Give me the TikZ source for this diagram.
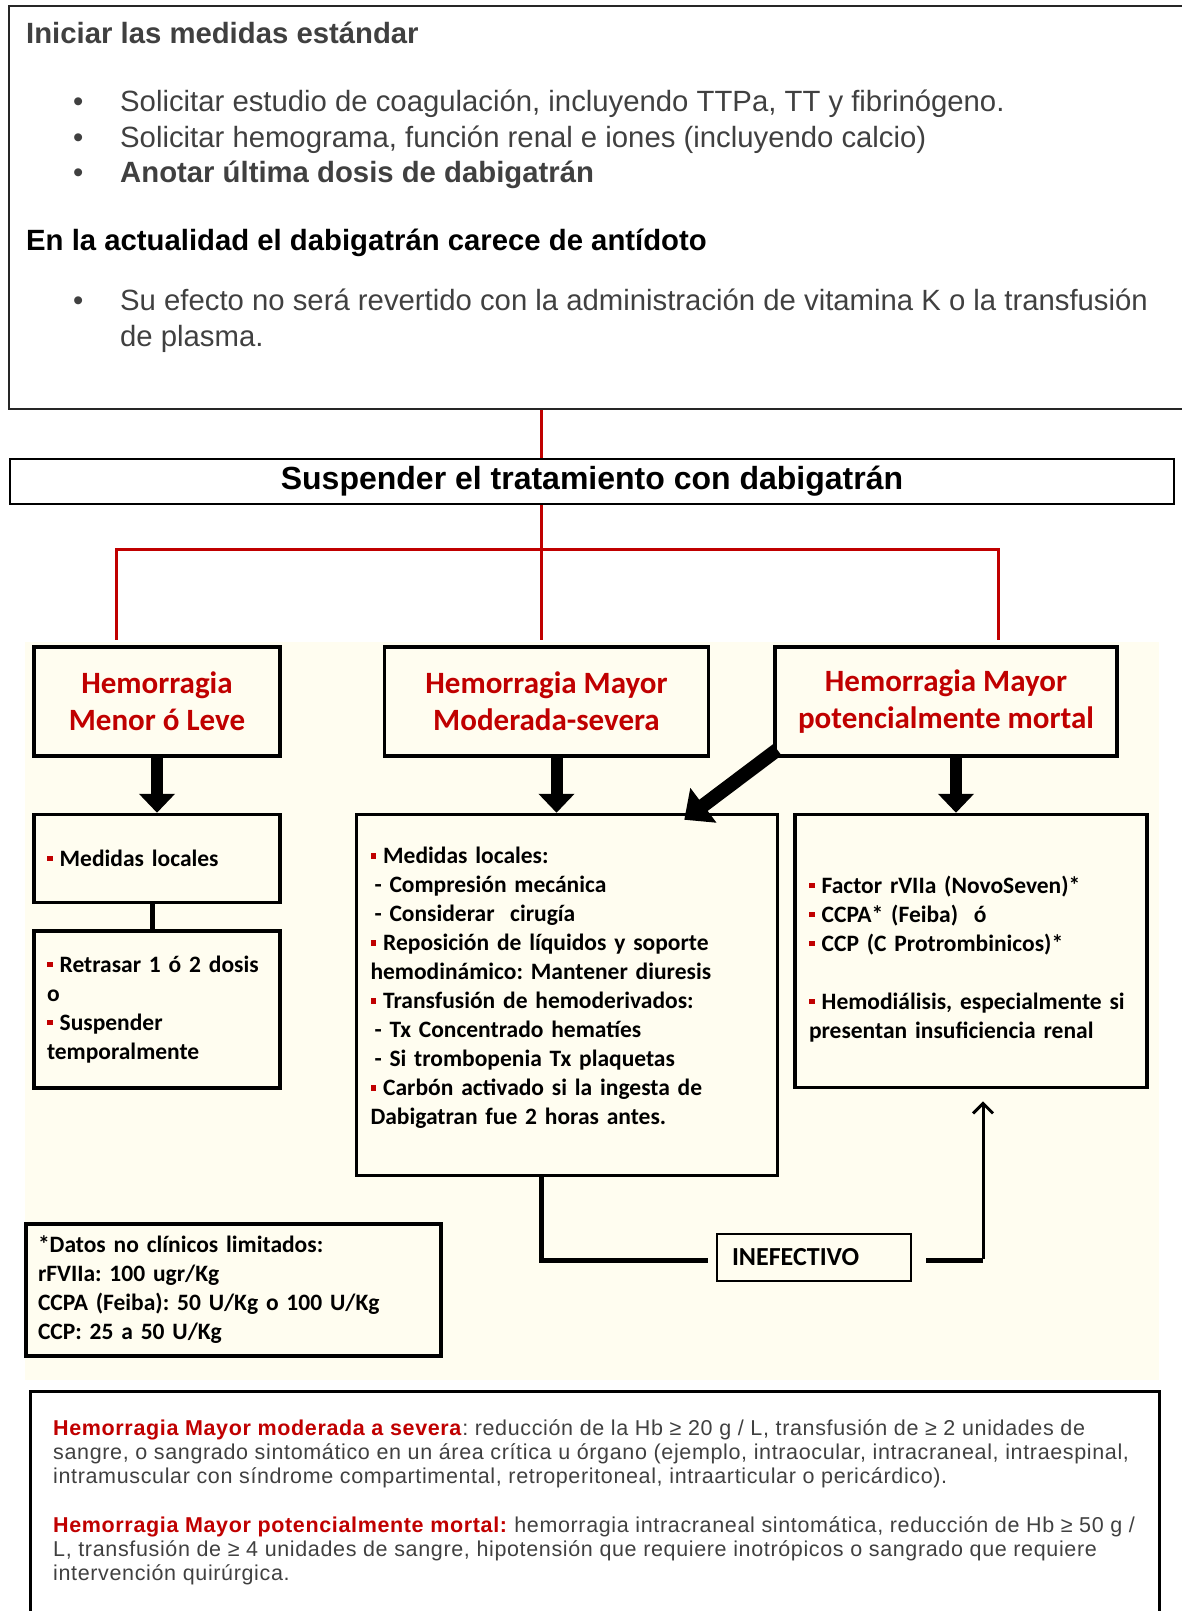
\documentclass[tikz,border=0pt]{standalone}
\usepackage{fontspec}
\setmainfont{Liberation Sans}
\newfontfamily\carlito{Carlito}
\newfontfamily\defsfont[LetterSpace=3]{Liberation Sans}
\usetikzlibrary{positioning, arrows.meta}

\definecolor{hemred}{HTML}{C00000}
\definecolor{cream}{HTML}{FFFDF0}
\definecolor{greytext}{HTML}{404040}

\newcommand{\redsq}{\textcolor{hemred}{\rule[0.22em]{0.24em}{0.24em}}\hspace{0.3em}}
\frenchspacing

\begin{document}
\begin{tikzpicture}[
    x=1pt, y=-1pt,
    outline/.style={rectangle, draw, line width=2pt},
    hembox/.style={rectangle, draw, line width=3.5pt, fill=cream, align=center,
      text=hemred, font=\carlito\bfseries\fontsize{31}{37}\selectfont,
      minimum height=109pt},
    careb/.style={rectangle, draw, line width=3.5pt, fill=cream, align=left,
      inner xsep=13pt, font=\carlito\bfseries\fontsize{23.5}{29}\selectfont},
    redline/.style={draw=hemred, line width=3pt},
    fatarrow/.style={-{Triangle[length=19pt, width=35pt]}, line width=12pt},
    loopline/.style={line width=5pt},
    backarrow/.style={-{Straight Barb[length=10pt, width=20pt]}, line width=3pt}
  ]
  \useasboundingbox (0,0) rectangle (1182,1611);
  \fill[cream] (25,642) rectangle (1159,1380);

  % medidas estandar
  \node[outline, draw=black!85, anchor=north west, minimum width=1200pt,
    minimum height=403pt] (std) at (8,5) {};
  \node[anchor=north west, inner sep=0pt, align=left, text=greytext,
    font=\fontsize{29.3}{35.5}\selectfont] (stdtxt)
    at ([xshift=18pt,yshift=-17pt]std.north west)
    {\textbf{Iniciar las medidas estándar}\\[32.5pt]
     \hspace*{47pt}\makebox[47pt][l]{\textbullet}Solicitar estudio de coagulación, incluyendo TTPa, TT y fibrinógeno.\\
     \hspace*{47pt}\makebox[47pt][l]{\textbullet}Solicitar hemograma, función renal e iones (incluyendo calcio)\\
     \hspace*{47pt}\makebox[47pt][l]{\textbullet}\textbf{Anotar última dosis de dabigatrán}\\[32.5pt]
     \textcolor{black}{\textbf{En la actualidad el dabigatrán carece de antídoto}}\\[24.5pt]
     \hspace*{47pt}\makebox[47pt][l]{\textbullet}Su efecto no será revertido con la administración de vitamina K o la transfusión\\
     \hspace*{94pt}de plasma.};

  \node[outline, line width=2.5pt, minimum width=1164pt, minimum height=45pt,
    font=\bfseries\fontsize{32}{38}\selectfont] (susp) at (592,481.5)
    {Suspender el tratamiento con dabigatrán};

  % tipos de hemorragia
  \node[hembox, minimum width=246pt] (menor) at (157,701.5) {Hemorragia\\Menor ó Leve};
  \node[hembox, minimum width=324pt, right=101pt of menor] (mod) {Hemorragia Mayor\\Moderada-severa};
  \node[hembox, minimum width=342pt, right=63pt of mod] (mortal) {Hemorragia Mayor\\potencialmente mortal};

  % manejo
  \node[careb, minimum width=246pt, minimum height=88pt, text width=220pt,
    below=55pt of menor] (medL) {\redsq Medidas locales};
  \node[careb, minimum width=246pt, minimum height=157pt, text width=220pt,
    below=25pt of medL] (retr)
    {\redsq Retrasar 1 ó 2 dosis\\
     o\\
     \redsq Suspender\\
     temporalmente};
  \node[careb, inner xsep=14pt, minimum width=421pt, minimum height=361pt, text width=393pt,
    below=55pt of mod, xshift=20.5pt] (mid)
    {\redsq Medidas locales:\\
     \hspace*{4pt}- Compresión mecánica\\
     \hspace*{4pt}- Considerar\ \ cirugía\\
     \redsq Reposición de líquidos y soporte\\
     hemodinámico: Mantener diuresis\\
     \redsq Transfusión de hemoderivados:\\
     \hspace*{4pt}- Tx Concentrado hematíes\\
     \hspace*{4pt}- Si trombopenia Tx plaquetas\\
     \redsq Carbón activado si la ingesta de\\
     Dabigatran fue 2 horas antes.\\[-11pt]
     \mbox{}};
  \node[careb, inner xsep=14pt, minimum width=352pt, minimum height=273pt, text width=324pt,
    below=55pt of mortal, xshift=25pt] (right)
    {\mbox{}\\[5pt]
     \redsq Factor rVIIa (NovoSeven)*\\
     \redsq CCPA* (Feiba)\ \ ó\\
     \redsq CCP (C Protrombinicos)*\\[29pt]
     \redsq Hemodiálisis, especialmente si\\
     presentan insuficiencia renal};

  \node[careb, inner xsep=12pt, minimum width=415pt, minimum height=132pt, text width=391pt]
    (datos) at (233.5,1290)
    {*Datos no clínicos limitados:\\
     rFVIIa: 100 ugr/Kg\\
     CCPA (Feiba): 50 U/Kg o 100 U/Kg\\
     CCP: 25 a 50 U/Kg};

  \node[rectangle, draw, line width=2pt, fill=cream, align=left, inner xsep=15pt,
    text width=164pt, minimum height=47pt,
    font=\carlito\bfseries\fontsize{26}{30}\selectfont] (inef) at (814,1257.5) {INEFECTIVO};

  % definiciones
  \node[outline, line width=3pt, anchor=north west, minimum width=1129pt,
    minimum height=260pt] (defs) at (29,1390) {};
  \node[anchor=north west, inner sep=0pt, align=left, text=greytext,
    font=\defsfont\fontsize{21.5}{24}\selectfont] (defstxt)
    at ([xshift=24pt,yshift=-29pt]defs.north west)
    {\textcolor{hemred}{\textbf{Hemorragia Mayor moderada a severa}}: reducción de la Hb ≥ 20 g / L, transfusión de ≥ 2 unidades de\\
     sangre, o sangrado sintomático en un área crítica u órgano (ejemplo, intraocular, intracraneal, intraespinal,\\
     intramuscular con síndrome compartimental, retroperitoneal, intraarticular o pericárdico).\\[25pt]
     \textcolor{hemred}{\textbf{Hemorragia Mayor potencialmente mortal:}} hemorragia intracraneal sintomática, reducción de Hb ≥ 50 g /\\
     L, transfusión de ≥ 4 unidades de sangre, hipotensión que requiere inotrópicos o sangrado que requiere\\
     intervención quirúrgica.};

  % conectores
  \coordinate (split) at ([xshift=-5pt,yshift=-44pt]susp.south -| mod.north);
  \draw[redline] (split |- std.south) -- (split |- susp.north);
  \draw[redline] (split |- susp.south) -- (split);
  \draw[redline] (split) -| ([xshift=-41pt,yshift=5pt]menor.north);
  \draw[redline] (split) -| ([xshift=52pt,yshift=5pt]mortal.north);
  \draw[redline] (split) -- ([yshift=5pt]split |- mod.north);

  \draw[fatarrow] (menor) -- (medL);
  \draw[fatarrow] ([xshift=10pt]mod.south) -- ([xshift=10pt]mod.south |- mid.north);
  \draw[fatarrow] ([xshift=10pt]mortal.south) -- ([xshift=10pt]mortal.south |- right.north);
  \draw[fatarrow, line width=14pt, -{Triangle[length=24pt, width=42pt]}]
    ([xshift=4pt,yshift=8pt]mortal.south west) -- ([xshift=-95pt,yshift=-7pt]mid.north east);
  \draw[line width=5pt] ([xshift=-5pt]medL.south) -- ([xshift=-5pt]retr.north);

  \draw[loopline] ([xshift=-25.5pt]mid.south) |- ([xshift=-8pt,yshift=-3pt]inef.west);
  \coordinate (turn) at ([xshift=12pt,yshift=-3pt]right.south |- inef.east);
  \draw[loopline] ([xshift=14pt,yshift=-3pt]inef.east) -- (turn);
  \draw[backarrow] ([yshift=2pt]turn) -- ([xshift=12pt,yshift=-12pt]right.south);
\end{tikzpicture}
\end{document}
